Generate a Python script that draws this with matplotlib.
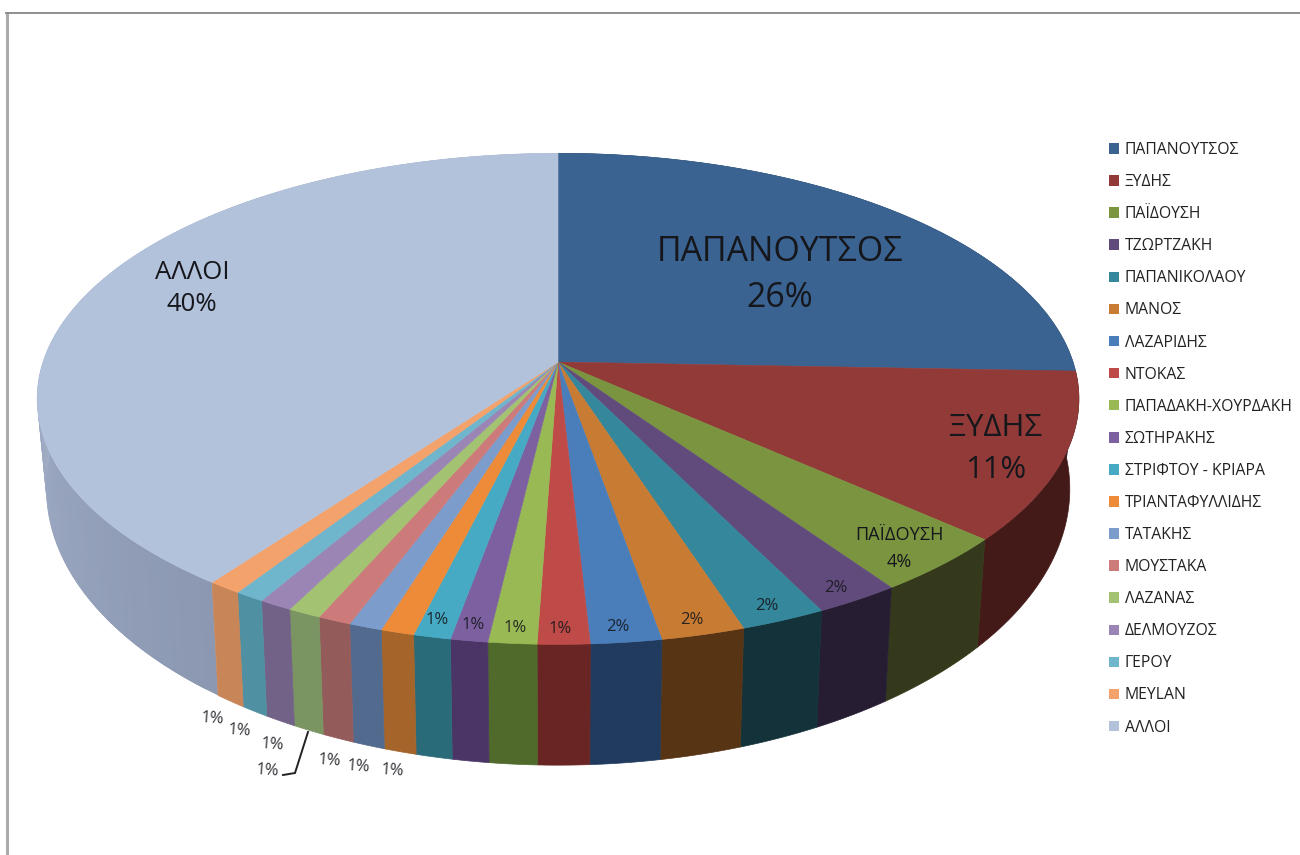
import numpy as np
import matplotlib
matplotlib.use("Agg")
import matplotlib.pyplot as plt
from matplotlib.patches import Patch
from matplotlib.colors import to_rgb

plt.rcParams['font.family'] = ['Open Sans', 'Noto Sans', 'DejaVu Sans']

names = ["ΠΑΠΑΝΟΥΤΣΟΣ", "ΞΥΔΗΣ", "ΠΑΪΔΟΥΣΗ", "ΤΖΩΡΤΖΑΚΗ", "ΠΑΠΑΝΙΚΟΛΑΟΥ", "ΜΑΝΟΣ",
         "ΛΑΖΑΡΙΔΗΣ", "ΝΤΟΚΑΣ", "ΠΑΠΑΔΑΚΗ-ΧΟΥΡΔΑΚΗ", "ΣΩΤΗΡΑΚΗΣ", "ΣΤΡΙΦΤΟΥ - ΚΡΙΑΡΑ",
         "ΤΡΙΑΝΤΑΦΥΛΛΙΔΗΣ", "ΤΑΤΑΚΗΣ", "ΜΟΥΣΤΑΚΑ", "ΛΑΖΑΝΑΣ", "ΔΕΛΜΟΥΖΟΣ", "ΓΕΡΟΥ",
         "ΜΕΥLAN", "ΑΛΛΟΙ"]
values = [25.6, 11.0, 3.8, 2.3, 2.3, 2.25, 1.9, 1.4, 1.3, 1.0, 1.0, 0.9, 0.9, 0.9,
          0.9, 0.9, 0.8, 0.9, 39.95]
pct_labels = ["26%", "11%", "4%", "2%", "2%", "2%", "2%", "1%", "1%", "1%", "1%",
              "1%", "1%", "1%", "1%", "1%", "1%", "1%", "40%"]
top_colors = ["#3B6391", "#923A38", "#7A9440", "#614B7D", "#35879B", "#C87B33",
              "#4A7EBB", "#BE4B48", "#98B954", "#7D60A0", "#46AAC5", "#EE8B38",
              "#7C9CCB", "#CD7B7A", "#A3C272", "#9A85B5", "#6FB5CC", "#F4A26C", "#B3C2DB"]
side_colors = ["#2A4668", "#431A18", "#33391A", "#261D32", "#133239", "#573414",
               "#213B5E", "#682523", "#4F6A2B", "#4B3566", "#2A6B7A", "#A5642A",
               "#526A8E", "#945B5B", "#7A9462", "#736288", "#4F90A3", "#C78558", "#8C98B2"]
side_left_color = "#A3B0C8"

W, H = 1300, 855
fig = plt.figure(figsize=(W / 100, H / 100), dpi=100)
ax = fig.add_axes([0, 0, 1, 1])
ax.set_xlim(0, W)
ax.set_ylim(H, 0)
ax.axis("off")

K = 0.15
CX = 558.0


def project(theta, a, b, cy):
    """Clockwise-from-top angle on the unit disc -> perspective image position."""
    X, Y = np.sin(theta), np.cos(theta)
    w = 1 + K * Y
    return CX + a * X / w, cy - b * Y / w


TOP = (515.0, 240.0, 362.0)
BOT = (506.0, 270.0, 447.5)

edges = np.cumsum([0.0] + values)
edges = edges / edges[-1] * 2 * np.pi

# sides
for i in range(len(values)):
    t0, t1 = edges[i], edges[i + 1]
    if i == len(values) - 1:
        steps = 90
        tt = np.linspace(t0, t1, steps + 1)
        c0, c1 = np.array(to_rgb(side_colors[i])), np.array(to_rgb(side_left_color))
        for j in range(steps):
            seg = tt[j:j + 3]
            xt, yt = project(seg, *TOP)
            xb, yb = project(seg, *BOT)
            f = min(1.0, j / (steps * 0.42))
            ax.fill(np.r_[xt, xb[::-1]], np.r_[yt, yb[::-1]],
                    facecolor=tuple(c0 + (c1 - c0) * f), edgecolor="none", zorder=2)
    else:
        tt = np.linspace(t0, t1, 40)
        xt, yt = project(tt, *TOP)
        xb, yb = project(tt, *BOT)
        ax.fill(np.r_[xt, xb[::-1]], np.r_[yt, yb[::-1]],
                color=side_colors[i], lw=0.5, zorder=2 + 0.01 * i)

# top face
for i in range(len(values)):
    tt = np.linspace(edges[i], edges[i + 1], 120)
    xt, yt = project(tt, *TOP)
    ax.fill(np.r_[CX, xt], np.r_[TOP[2], yt], color=top_colors[i], lw=0.4, zorder=3)

TXT = "#15171c"
# large / named labels
named = {0: (780, 275, 24.4, 1.46), 1: (996, 449, 22.4, 1.5), 2: (899, 548.5, 13.1, 1.6),
         18: (192, 288.5, 18.5, 1.4)}
for i, (x, y, fs, ls) in named.items():
    ax.text(x, y, f"{names[i]}\n{pct_labels[i]}", ha="center", va="center", fontsize=fs,
            color=TXT, zorder=5, linespacing=ls)

# small percentage labels
small_pos = {3: (836, 588), 4: (767, 606), 5: (692, 620), 6: (618, 627), 7: (560, 629),
             8: (515, 628), 9: (473, 625), 10: (437, 620), 11: (392, 771), 12: (358, 767),
             13: (329, 761), 14: (267, 771), 15: (272, 745), 16: (239, 731), 17: (212, 719)}
for i, (x, y) in small_pos.items():
    ax.text(x, y, pct_labels[i], ha="center", va="center", fontsize=12, color=TXT, alpha=0.88,
            zorder=5, rotation=-4 if i >= 11 else 0)

# leader line
ax.plot([308, 295, 283], [732, 773, 775], color="#222222", lw=1.4, zorder=4, solid_joinstyle="miter")

# chart frame
ax.plot([7, 7], [13, H], color="#ABABAB", lw=2.2, zorder=1, clip_on=False)
ax.plot([6, W], [13, 13], color="#8E8E8E", lw=1.4, zorder=1, clip_on=False)

handles = [Patch(facecolor=c, edgecolor="none") for c in top_colors]
leg = ax.legend(handles, names, loc="upper left", bbox_to_anchor=(1109 / W, 1 - 142 / H),
                bbox_transform=fig.transFigure, frameon=False, fontsize=11.3,
                handlelength=0.66, handleheight=0.66, handletextpad=0.33,
                labelspacing=1.025, borderpad=0, borderaxespad=0, labelcolor="#222222")
leg.set_zorder(6)

fig.savefig("out.png", dpi=100, facecolor="white")
